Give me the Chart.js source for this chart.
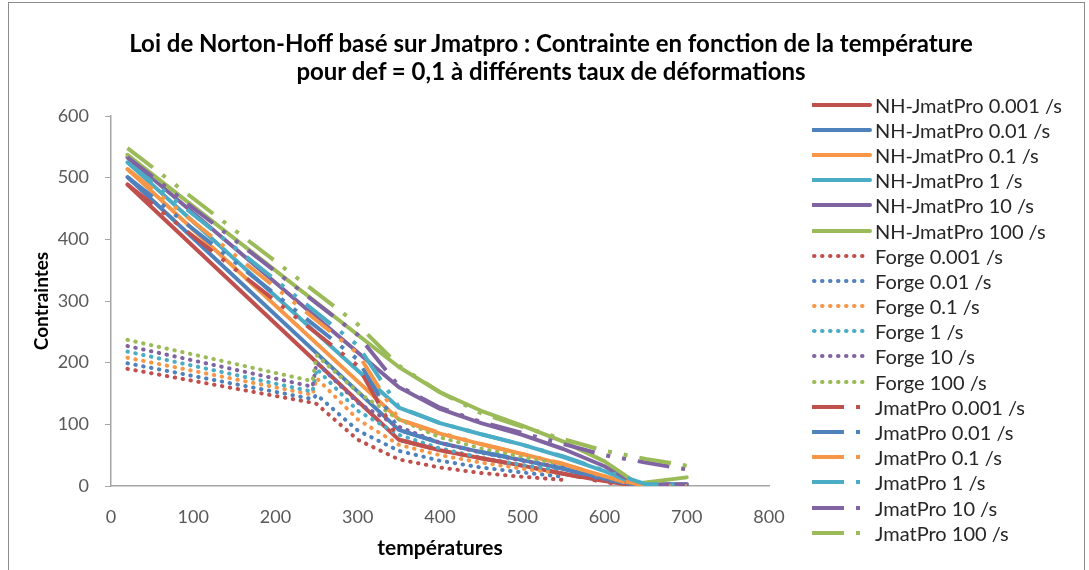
<!DOCTYPE html>
<html>
<head>
<meta charset="utf-8">
<script src="https://cdn.jsdelivr.net/npm/chart.js@4/dist/chart.umd.min.js"></script>
<style>
  body { margin: 0; background: #fff; }
  #wrap { position: relative; width: 1089px; height: 570px; overflow: hidden; font-family: Lato, 'Open Sans', sans-serif; }
  #frame { position: absolute; left: 8px; top: 2px; width: 1075px; height: 620px; border: 1px solid #8c8c8c; }
  #chart { position: absolute; left: 0; top: 0; }
  #title { position: absolute; left: 101px; width: 900px; top: 29px; text-align: center; font-weight: bold; font-size: 24px; line-height: 28px; color: #000; }
  #legend { position: absolute; left: 812px; top: 92px; }
  .item { height: 25.2px; display: flex; align-items: center; font-size: 20px; color: #262626; white-space: nowrap; }
  .item canvas { width: 60px; height: 12px; margin-right: 3px; }
</style>
</head>
<body>
<div id="wrap">
  <div id="frame"></div>
  <canvas id="chart" width="1089" height="570"></canvas>
  <div id="title">Loi de Norton-Hoff basé sur Jmatpro : Contrainte en fonction de la température<br>pour def = 0,1 à différents taux de déformations</div>
  <div id="legend"></div>
</div>
<script>
// temperatures (x) for each family of curves
const tempNH = [20, 350, 400, 450, 500, 550, 600, 640, 700];
const tempForge = [20, 245, 250, 300, 350, 400, 450, 500, 550];
const tempJmat = [20, 300, 350, 400, 450, 500, 550, 600, 650, 700];

const rates = ['0.001', '0.01', '0.1', '1', '10', '100'];

// NH-JmatPro (solid lines)
const nh0001 = [489, 75, 58, 45, 33, 20, 8, 0, 0];
const nh001  = [501, 91, 70, 55, 42, 28, 12, 0, 0];
const nh01   = [514, 108, 85, 68, 52, 35, 16, 0, 0];
const nh1    = [525, 127, 102, 84, 67, 47, 24, 2, 3];
const nh10   = [533, 160, 125, 102, 83, 60, 32, 3, 3];
const nh100  = [537, 193, 152, 122, 98, 72, 40, 4, 14];

// Forge (dotted)
const forge0001 = [190, 135, 133, 75, 43, 30, 21, 15, 10];
const forge001  = [199, 141, 148, 90, 57, 41, 30, 22, 15];
const forge01   = [208, 148, 175, 108, 67, 50, 38, 28, 20];
const forge1    = [218, 153, 190, 122, 83, 61, 46, 34, 25];
const forge10   = [227, 161, 200, 135, 96, 70, 54, 41, 30];
const forge100  = [237, 170, 212, 152, 108, 79, 61, 47, 35];

// JmatPro (long dash dot dot)
const jmat0001 = [489, 195, 75, 58, 45, 33, 20, 6, 0, 0];
const jmat001  = [501, 205, 91, 70, 55, 42, 28, 10, 0, 0];
const jmat01   = [514, 215, 108, 86, 68, 52, 36, 15, 0, 0];
const jmat1    = [525, 228, 128, 102, 84, 67, 48, 25, 3, 2];
const jmat10   = [533, 245, 162, 127, 104, 86, 68, 50, 38, 27];
const jmat100  = [548, 262, 195, 152, 118, 96, 76, 57, 44, 33];

const xTicks = [0, 100, 200, 300, 400, 500, 600, 700, 800];
const yTicks = [0, 100, 200, 300, 400, 500, 600];

const colors = ['#C0504D', '#4F81BD', '#F79646', '#4BACC6', '#8064A2', '#9BBB59'];
const FONT = "Lato, 'Open Sans', sans-serif";

const styles = {
  solid: { borderWidth: 4, borderDash: [], borderCapStyle: 'round' },
  dot:   { borderWidth: 4, borderDash: [0.5, 7.5], borderCapStyle: 'round' },
  dashdotdot: { borderWidth: 4, borderDash: [32, 12, 4, 12, 4, 12], borderCapStyle: 'butt' }
};

function pts(xs, ys) {
  return xs.map((x, i) => ({ x: x, y: ys[i] }));
}

const families = [
  { prefix: 'NH-JmatPro ', xs: tempNH, series: [nh0001, nh001, nh01, nh1, nh10, nh100], style: 'solid' },
  { prefix: 'Forge ', xs: tempForge, series: [forge0001, forge001, forge01, forge1, forge10, forge100], style: 'dot' },
  { prefix: 'JmatPro ', xs: tempJmat, series: [jmat0001, jmat001, jmat01, jmat1, jmat10, jmat100], style: 'dashdotdot' }
];

const datasets = [];
families.forEach(f => {
  f.series.forEach((ys, i) => {
    const st = styles[f.style];
    datasets.push({
      label: f.prefix + rates[i] + ' /s',
      data: pts(f.xs, ys),
      showLine: true,
      borderColor: colors[i],
      backgroundColor: colors[i],
      borderWidth: st.borderWidth,
      borderDash: st.borderDash,
      borderCapStyle: st.borderCapStyle,
      borderJoinStyle: 'round',
      pointRadius: 0,
      tension: 0,
      _style: f.style
    });
  });
});
// excel draws later series on top
datasets.forEach((d, i) => { d.order = datasets.length - 1 - i; });

new Chart(document.getElementById('chart'), {
  type: 'scatter',
  data: { datasets },
  options: {
    responsive: false,
    animation: false,
    devicePixelRatio: 1,
    layout: { padding: { left: 20, right: 320, top: 116, bottom: 0 } },
    plugins: {
      legend: { display: false },
      tooltip: { enabled: false },
      title: { display: false }
    },
    scales: {
      x: {
        type: 'linear', min: 0, max: 800,
        afterBuildTicks: s => { s.ticks = xTicks.map(v => ({ value: v })); },
        afterFit: s => { s.height = 84; },
        ticks: { color: '#595959', font: { family: FONT, size: 18 }, padding: 20 },
        grid: { display: true, drawOnChartArea: false, drawTicks: false },
        border: { color: '#a6a6a6', width: 1.5 },
        title: { display: true, text: 'températures', color: '#000', font: { family: FONT, size: 21, weight: 'bold' }, padding: { top: 0, bottom: 9 } }
      },
      y: {
        type: 'linear', min: 0, max: 600,
        afterBuildTicks: s => { s.ticks = yTicks.map(v => ({ value: v })); },
        afterFit: s => { s.width = 91; },
        ticks: { color: '#595959', font: { family: FONT, size: 18 }, padding: 16 },
        grid: { display: true, drawOnChartArea: false, drawTicks: true, tickLength: 6, color: '#a6a6a6' },
        border: { color: '#a6a6a6', width: 1.5 },
        title: { display: true, text: 'Contraintes', color: '#000', font: { family: FONT, size: 19, weight: 'bold' }, padding: { top: 10, bottom: 0 } }
      }
    }
  }
});

// html legend with line samples
const legend = document.getElementById('legend');
datasets.forEach(d => {
  const row = document.createElement('div');
  row.className = 'item';
  const c = document.createElement('canvas');
  c.width = 60; c.height = 12;
  const g = c.getContext('2d');
  g.strokeStyle = d.borderColor;
  g.lineWidth = d.borderWidth;
  g.lineCap = d.borderCapStyle;
  g.setLineDash(d.borderDash);
  g.beginPath();
  if (d._style === 'dot') { g.moveTo(2, 6); g.lineTo(58, 6); }
  else { g.moveTo(0, 6); g.lineTo(58, 6); }
  g.stroke();
  row.appendChild(c);
  const t = document.createElement('span');
  t.textContent = d.label;
  row.appendChild(t);
  legend.appendChild(row);
});
</script>
</body>
</html>
